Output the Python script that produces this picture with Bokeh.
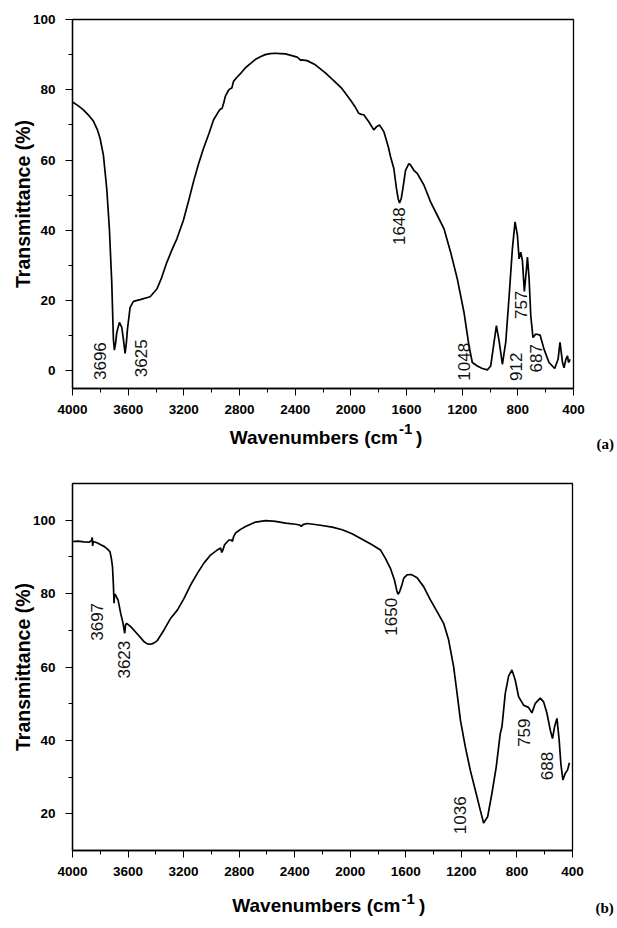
import math
from bokeh.plotting import figure
from bokeh.models import Range1d, FixedTicker
from bokeh.layouts import column, row
from bokeh.core.properties import value
from bokeh.embed import file_html
from bokeh.resources import INLINE

# ---------------- data: panel (a) ----------------
wn_a = [4000, 3960, 3922, 3885, 3850, 3820, 3802, 3778, 3754, 3735, 3718, 3706, 3699, 3690,
        3682, 3663, 3646, 3634, 3622, 3613, 3605, 3586, 3562, 3514, 3442, 3394, 3360, 3322,
        3285, 3250, 3203, 3165, 3131, 3095, 3059, 3020, 2987, 2951, 2935, 2926, 2915, 2902,
        2880, 2866, 2855, 2843, 2820, 2795, 2759, 2720, 2687, 2650, 2615, 2580, 2543, 2505,
        2471, 2430, 2386, 2370, 2363, 2355, 2315, 2255, 2183, 2123, 2063, 2003, 1970, 1943,
        1925, 1907, 1871, 1835, 1815, 1794, 1763, 1731, 1715, 1691, 1672, 1660, 1650, 1638,
        1626, 1607, 1583, 1571, 1547, 1523, 1475, 1427, 1379, 1331, 1283, 1235, 1187, 1151,
        1127, 1091, 1055, 1019, 995, 971, 954, 935, 911, 887, 864, 839, 820, 803, 791, 779,
        767, 753, 738, 731, 719, 707, 691, 671, 640, 612, 576, 535, 511, 497, 479, 468, 455,
        443, 436, 424]
t_a = [76.5, 75.5, 74.3, 72.8, 71.1, 68.5, 66.2, 61.4, 51.9, 40.5, 25.2, 9.0, 5.9, 8.0,
       10.9, 13.8, 12.4, 9.0, 5.0, 8.0, 11.9, 18.1, 19.8, 20.3, 21.1, 23.3, 26.5, 30.9,
       34.5, 37.6, 42.9, 48.5, 53.8, 58.8, 63.3, 67.5, 71.4, 73.8, 74.6, 74.6, 76.0, 78.1,
       79.8, 80.3, 80.5, 82.4, 83.5, 84.5, 86.2, 87.5, 88.6, 89.4, 90.0, 90.3, 90.4, 90.3,
       90.2, 89.8, 89.3, 88.8, 88.4, 88.5, 88.3, 87.1, 84.8, 82.6, 80.3, 77.1, 75.2, 73.3,
       73.0, 72.9, 70.9, 68.6, 69.5, 70.0, 68.1, 63.8, 61.0, 57.6, 51.9, 49.0, 47.8, 49.0,
       51.9, 57.1, 59.0, 58.6, 57.1, 56.2, 52.9, 48.1, 44.3, 40.5, 33.8, 26.2, 16.7, 7.1,
       2.4, 1.4, 0.7, 0.3, 1.4, 8.1, 12.9, 8.6, 1.9, 8.1, 20.5, 34.8, 42.4, 38.6, 31.9, 33.8,
       31.4, 22.6, 29.0, 32.4, 26.2, 15.7, 9.5, 10.5, 10.2, 6.2, 2.4, 0.7, 3.3, 8.1, 2.4, 0.9, 3.3,
       4.3, 2.4, 3.3]

peak_text_a = ["3696", "3625", "1648", "1048", "912", "757", "687"]
peak_x_a = [3804, 3508, 1652, 1190, 815, 779, 671]
peak_y_a = [2.8, 3.6, 41.2, 2.6, 1.2, 18.8, 3.6]

# ---------------- data: panel (b) ----------------
wn_b = [4000, 3960, 3917, 3880, 3862, 3858, 3855, 3850, 3820, 3796, 3770, 3748, 3730, 3720,
        3712, 3705, 3701, 3697, 3689, 3680, 3672, 3653, 3636, 3624, 3618, 3610, 3581, 3533,
        3485, 3460, 3437, 3415, 3389, 3341, 3293, 3245, 3197, 3149, 3101, 3054, 3006, 2957,
        2934, 2925, 2918, 2905, 2874, 2856, 2849, 2840, 2826, 2790, 2754, 2682, 2610, 2538,
        2466, 2394, 2365, 2353, 2340, 2310, 2227, 2130, 2058, 1987, 1915, 1843, 1783, 1747,
        1711, 1682, 1665, 1656, 1645, 1632, 1615, 1591, 1567, 1555, 1519, 1472, 1423, 1375,
        1328, 1292, 1256, 1231, 1207, 1172, 1136, 1100, 1064, 1040, 1011, 980, 949, 920, 908,
        884, 860, 836, 812, 788, 752, 717, 692, 668, 632, 608, 584, 560, 544, 529, 512, 496,
        484, 469, 453, 436, 422]
t_b = [94.2, 94.3, 94.1, 94.0, 94.5, 95.3, 93.0, 94.2, 93.8, 93.3, 92.8, 92.1, 91.4, 89.5,
       87.3, 81.9, 77.4, 79.8, 79.6, 78.8, 78.3, 74.6, 71.9, 69.2, 71.5, 71.9, 71.0, 69.0,
       66.9, 66.3, 66.2, 66.5, 67.2, 70.1, 73.3, 75.5, 78.7, 82.4, 85.5, 88.3, 90.5, 91.9,
       92.4, 91.2, 91.8, 93.3, 94.6, 94.6, 94.2, 95.5, 96.5, 97.5, 98.3, 99.5, 99.9, 99.7,
       99.2, 98.9, 98.7, 98.3, 98.8, 99.1, 98.7, 98.1, 97.4, 96.3, 94.8, 93.3, 91.9, 89.6,
       86.9, 83.7, 80.8, 79.8, 80.5, 81.9, 84.2, 85.1, 85.2, 85.1, 84.3, 81.9, 78.3, 75.1,
       71.9, 67.4, 60.1, 52.8, 45.5, 38.3, 31.9, 26.5, 21.0, 17.5, 19.2, 25.6, 32.8, 41.9, 43.7,
       52.8, 57.5, 59.2, 56.4, 51.9, 49.6, 49.0, 47.5, 50.1, 51.5, 50.5, 47.4, 42.8, 40.5, 43.7, 46.0, 40.1,
       33.7, 29.2, 31.0, 31.9, 33.9]

peak_text_b = ["3697", "3623", "1650", "1036", "759", "688"]
peak_x_b = [3824, 3629, 1705, 1208, 752, 584]
peak_y_b = [72.3, 62.0, 73.7, 19.6, 42.1, 33.0]

x_major = [4000, 3600, 3200, 2800, 2400, 2000, 1600, 1200, 800, 400]
x_minor = [3800, 3400, 3000, 2600, 2200, 1800, 1400, 1000, 600]
y_major_a = [0, 20, 40, 60, 80, 100]
y_minor_a = [10, 30, 50, 70, 90]
y_major_b = [20, 40, 60, 80, 100]
y_minor_b = [30, 50, 70, 90]

SANS = "Liberation Sans"
FIG_W = 617


def strip(w, h):
    """A blank figure whose frame spans its whole area (pixel-like coordinates)."""
    s = figure(width=w, height=h, x_range=Range1d(0, w), y_range=Range1d(0, h),
               output_backend="svg", toolbar_location=None, x_axis_location=None,
               y_axis_location=None, min_border=0)
    s.outline_line_color = None
    s.xgrid.visible = False
    s.ygrid.visible = False
    s.background_fill_color = "white"
    s.border_fill_color = "white"
    return s


def txt(s, x, y, text, size, align="left", font=SANS):
    s.text(x=[x], y=[y], text=[text], text_font=value(font),
           text_font_style="bold", text_font_size=size, text_color="black",
           text_align=align, text_baseline="middle")


def main_plot(wn, t, yrange, ymaj, ymin, ptext, px, py, height, btop, bbottom, bright):
    p = figure(width=FIG_W, height=height, x_range=Range1d(4000, 400),
               y_range=Range1d(*yrange), output_backend="svg", toolbar_location=None,
               min_border_left=72, min_border_right=bright, min_border_top=btop,
               min_border_bottom=bbottom)
    p.background_fill_color = "white"
    p.border_fill_color = "white"
    p.xgrid.visible = False
    p.ygrid.visible = False
    p.outline_line_color = "black"
    p.outline_line_width = 1.3
    p.outline_line_alpha = 1.0
    p.line(wn, t, line_color="black", line_width=1.7)
    p.text(x=px, y=py, text=ptext, angle=math.pi / 2, text_font=value(SANS),
           text_font_size="17px", text_align="center", text_baseline="middle",
           text_color="#111111")
    p.xaxis.ticker = FixedTicker(ticks=x_major, minor_ticks=x_minor)
    p.yaxis.ticker = FixedTicker(ticks=ymaj, minor_ticks=ymin)
    for ax in (p.xaxis[0], p.yaxis[0]):
        ax.axis_line_color = "black"
        ax.axis_line_width = 1.3
        ax.major_tick_out = 7
        ax.major_tick_in = 0
        ax.minor_tick_out = 4
        ax.minor_tick_in = 0
        ax.major_tick_line_color = "black"
        ax.minor_tick_line_color = "black"
        ax.major_label_text_font = SANS
        ax.major_label_text_font_style = "bold"
        ax.major_label_text_font_size = "13.5px"
        ax.major_label_text_color = "black"
    p.xaxis.major_label_standoff = 9
    p.yaxis.major_label_standoff = 10
    yax = p.yaxis[0]
    yax.axis_label = "Transmittance (%)"
    yax.axis_label_text_font = SANS
    yax.axis_label_text_font_style = "bold"
    yax.axis_label_text_font_size = "19.5px"
    yax.axis_label_text_color = "black"
    yax.axis_label_standoff = -4
    return p


# ---------- panel (a) : page rows 0..460 ----------
HA = 421
ma = main_plot(wn_a, t_a, (-5, 100), y_major_a, y_minor_a, peak_text_a, peak_x_a,
               peak_y_a, HA, 19, 33, 44)
xa = strip(FIG_W, 460 - HA)
txt(xa, 397.5, 460 - 437, "Wavenumbers (cm", "19px", align="right")
txt(xa, 398.5, 460 - 428, "-1", "15px")
txt(xa, 415.5, 460 - 437, ")", "19px")
txt(xa, 596, 460 - 443.5, "(a)", "15px", font="Liberation Serif")

# ---------- panel (b) : page rows 460..928 ----------
HB = 423
mb = main_plot(wn_b, t_b, (10, 110), y_major_b, y_minor_b, peak_text_b, peak_x_b,
               peak_y_b, HB, 23, 33, 45)
xb = strip(FIG_W, 928 - 460 - HB)
txt(xb, 400, 928 - 905.3, "Wavenumbers (cm", "19px", align="right")
txt(xb, 401, 928 - 898.7, "-1", "15px")
txt(xb, 418.5, 928 - 905.3, ")", "19px")
txt(xb, 595, 928 - 907.5, "(b)", "15px", font="Liberation Serif")

# wrap the plots in rows so their frames are not aligned with the title strips
layout = column(row(ma, spacing=0), row(xa, spacing=0), row(mb, spacing=0),
                row(xb, spacing=0), spacing=0)
open("out.html", "w").write(file_html(layout, INLINE))
